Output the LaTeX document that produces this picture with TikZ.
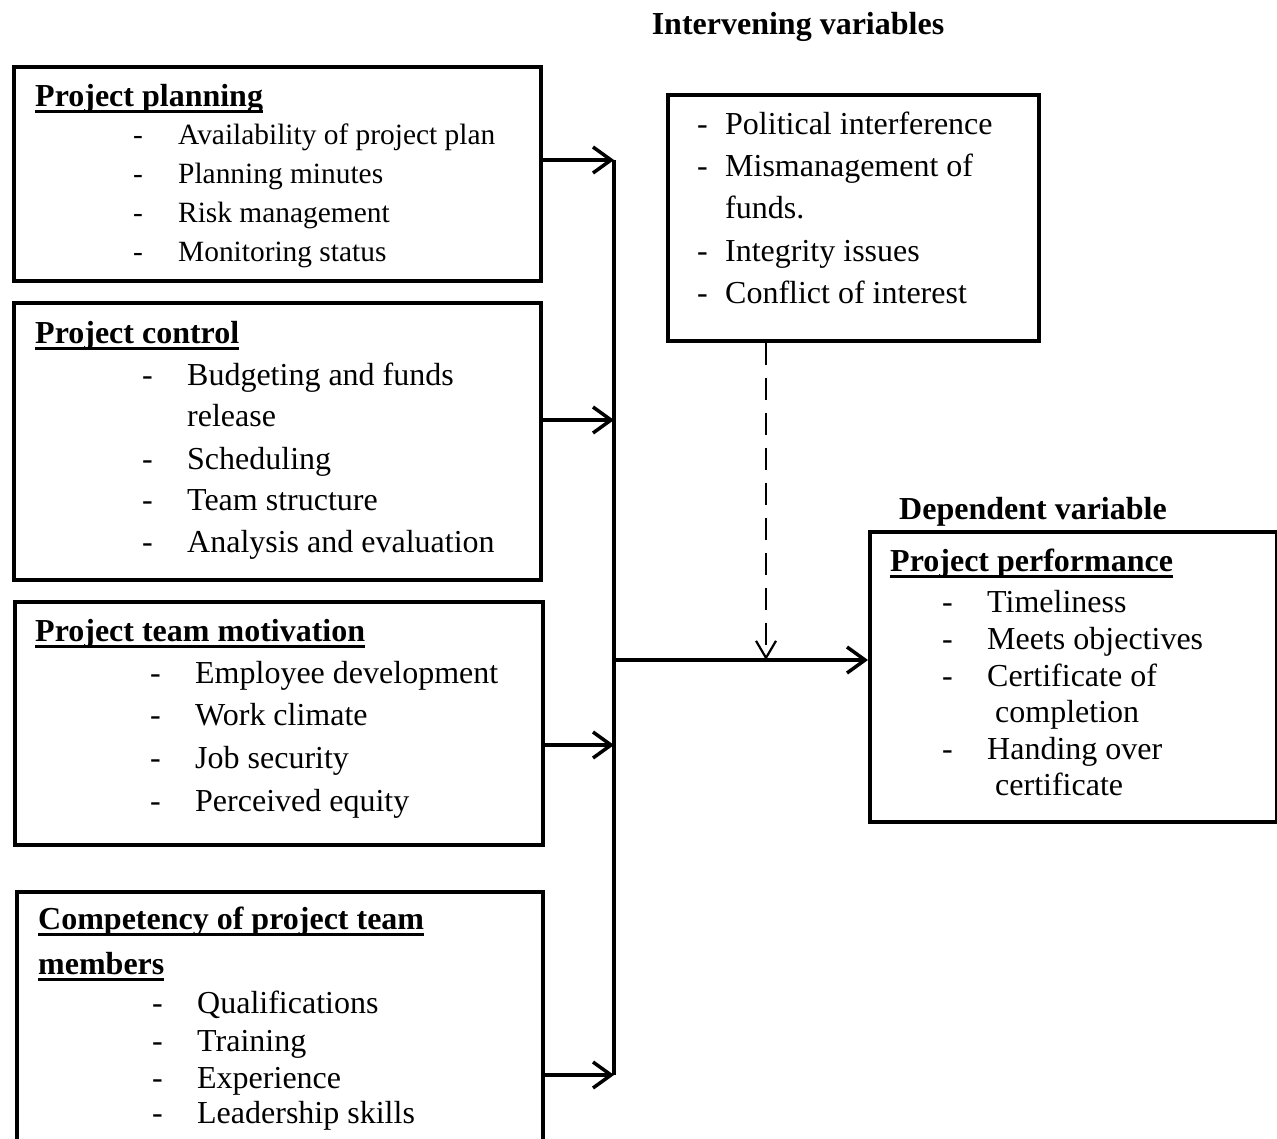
\documentclass[tikz,border=0pt]{standalone}
\usepackage{fontspec}
\setmainfont{Liberation Serif}
\usepackage{tikz}
\usetikzlibrary{arrows.meta}

\newcommand{\ulhead}[1]{\setbox0\hbox{\bfseries #1}\rlap{\rule[-6.5pt]{\wd0}{3pt}}\box0}
\newcommand{\dashitem}[2][45pt]{\makebox[#1][l]{-}#2}

\begin{document}
\begin{tikzpicture}[x=1pt, y=-1pt,
    box/.style={draw, line width=3.5pt, anchor=north west, inner sep=0pt},
    txt/.style={anchor=base west, inner sep=0pt, font=\fontsize{32}{38}\selectfont},
    smalltxt/.style={txt, font=\fontsize{29.4}{35}\selectfont},
    head/.style={anchor=base, inner sep=0pt, font=\fontsize{32}{38}\selectfont\bfseries},
    wire/.style={line width=3.5pt},
    arr/.style={line width=3.5pt, -{Straight Barb[length=18pt, width=26pt]}},
    dasharr/.style={line width=2.2pt, dash pattern=on 22pt off 13pt, -{Straight Barb[length=17pt, width=20pt]}}]
    \useasboundingbox (0,0) rectangle (1277,1138);

    % boxes
    \node[box, minimum width=527pt, minimum height=214pt] (plan) at (12,65) {};
    \node[box, minimum width=527pt, minimum height=277pt] (ctrl) at (12,301) {};
    \node[box, minimum width=528pt, minimum height=243pt] (motiv) at (13,600) {};
    \node[box, minimum width=526pt, minimum height=252pt] (comp) at (15,890) {};
    \node[box, minimum width=371pt, minimum height=246pt] (inter) at (666,93) {};
    \node[box, minimum width=407pt, minimum height=290pt] (perf) at (868,530) {};

    % headings above boxes
    \node[head] (interhead) at (798,34) {Intervening variables};
    \node[head] (perfhead) at (1033,519) {Dependent variable};

    % project planning
    \node[txt] (plan-t) at (35,106) {\ulhead{Project planning}};
    \node[smalltxt] (plan-1) at (133,144) {\dashitem{Availability of project plan}};
    \node[smalltxt] (plan-2) at (133,183) {\dashitem{Planning minutes}};
    \node[smalltxt] (plan-3) at (133,222) {\dashitem{Risk management}};
    \node[smalltxt] (plan-4) at (133,261) {\dashitem{Monitoring status}};

    % project control
    \node[txt] (ctrl-t) at (35,343) {\ulhead{Project control}};
    \node[txt] (ctrl-1) at (142,385) {\dashitem{Budgeting and funds}};
    \node[txt] (ctrl-1b) at (187,426) {release};
    \node[txt] (ctrl-2) at (142,469) {\dashitem{Scheduling}};
    \node[txt] (ctrl-3) at (142,510) {\dashitem{Team structure}};
    \node[txt] (ctrl-4) at (142,552) {\dashitem{Analysis and evaluation}};

    % project team motivation
    \node[txt] (motiv-t) at (35,641) {\ulhead{Project team motivation}};
    \node[txt] (motiv-1) at (150,683) {\dashitem{Employee development}};
    \node[txt] (motiv-2) at (150,725) {\dashitem{Work climate}};
    \node[txt] (motiv-3) at (150,768) {\dashitem{Job security}};
    \node[txt] (motiv-4) at (150,811) {\dashitem{Perceived equity}};

    % competency
    \node[txt] (comp-t) at (38,929) {\ulhead{Competency of project team}};
    \node[txt] (comp-tb) at (38,974) {\ulhead{members}};
    \node[txt] (comp-1) at (152,1013) {\dashitem{Qualifications}};
    \node[txt] (comp-2) at (152,1051) {\dashitem{Training}};
    \node[txt] (comp-3) at (152,1088) {\dashitem{Experience}};
    \node[txt] (comp-4) at (152,1123) {\dashitem{Leadership skills}};

    % intervening variables
    \node[txt] (inter-1) at (697,134) {\dashitem[28pt]{Political interference}};
    \node[txt] (inter-2) at (697,176) {\dashitem[28pt]{Mismanagement of}};
    \node[txt] (inter-2b) at (725,218) {funds.};
    \node[txt] (inter-3) at (697,261) {\dashitem[28pt]{Integrity issues}};
    \node[txt] (inter-4) at (697,303) {\dashitem[28pt]{Conflict of interest}};

    % project performance
    \node[txt] (perf-t) at (890,571) {\ulhead{Project performance}};
    \node[txt] (perf-1) at (942,612) {\dashitem{Timeliness}};
    \node[txt] (perf-2) at (942,649) {\dashitem{Meets objectives}};
    \node[txt] (perf-3) at (942,686) {\dashitem{Certificate of}};
    \node[txt] (perf-3b) at (995,722) {completion};
    \node[txt] (perf-4) at (942,759) {\dashitem{Handing over}};
    \node[txt] (perf-4b) at (995,795) {certificate};

    % connectors
    \coordinate (j1) at (614,160);
    \coordinate (j2) at (614,420);
    \coordinate (j3) at (614,745);
    \coordinate (j4) at (614,1075);
    \coordinate (jm) at (614,660);
    \coordinate (dm) at (766,660);
    \draw[wire] (j1) -- (j4);
    \draw[arr] (plan.east |- j1) -- (j1);
    \draw[arr] (ctrl.east |- j2) -- (j2);
    \draw[arr] (motiv.east |- j3) -- (j3);
    \draw[arr] (comp.east |- j4) -- (j4);
    \draw[arr] (jm) -- (perf.west |- jm);
    \draw[dasharr] (inter.south -| dm) -- (dm);
\end{tikzpicture}
\end{document}
